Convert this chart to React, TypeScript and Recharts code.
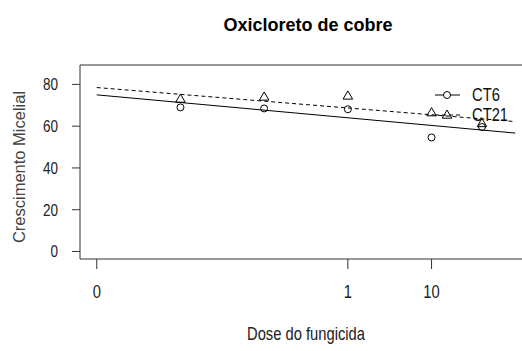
import { ComposedChart, XAxis, YAxis, Scatter, Line, ReferenceArea } from "recharts"

// doses (log scale, 0 drawn three decades below 1)
const doses = [0.01, 0.1, 1, 10, 40]
const ct6 = [69.0, 68.5, 68.1, 54.6, 59.6]
const ct21 = [73.0, 74.0, 74.5, 66.5, 61.3]

// fitted lines, ends only
const fitDoses = [0, 100]
const ct6Fit = [75.0, 56.7]
const ct21Fit = [78.5, 62.2]

const xTicks = [0, 1, 10]
const yTicks = [0, 20, 40, 60, 80]

const pos = (d: number) => (d === 0 ? -3 : Math.log10(d))

const pts6 = doses.map((d, i) => ({ x: pos(d), y: ct6[i] }))
const pts21 = doses.map((d, i) => ({ x: pos(d), y: ct21[i] }))
const fit6 = fitDoses.map((d, i) => ({ x: pos(d), y: ct6Fit[i] }))
const fit21 = fitDoses.map((d, i) => ({ x: pos(d), y: ct21Fit[i] }))

const font = "'Liberation Sans', Arial, sans-serif"
const squeeze = 0.82 // fake an Arial Narrow look

// text squeezed horizontally around its anchor point
const Narrow = ({ x, y, size, anchor = "start", fill = "#222", weight = "normal", children }: any) => (
  <text
    transform={`translate(${x} ${y}) scale(${squeeze} 1)`}
    textAnchor={anchor}
    fontSize={size}
    fontWeight={weight}
    fontFamily={font}
    fill={fill}
  >
    {children}
  </text>
)

const XTick = (p: any) => {
  const v = xTicks[xTicks.map(pos).indexOf(p.payload.value)]
  return <Narrow x={p.x} y={p.y + 29} size={18} anchor="middle">{v}</Narrow>
}

const YTick = (p: any) => (
  <Narrow x={p.x} y={p.y + 6} size={16.5} anchor="end">{p.payload.value}</Narrow>
)

const Circle = (p: any) => <circle cx={p.cx} cy={p.cy} r={3.5} fill="none" stroke="#000" strokeWidth={1} />
const Triangle = (p: any) => (
  <polygon
    points={`${p.cx},${p.cy - 5} ${p.cx - 4.8},${p.cy + 3.2} ${p.cx + 4.8},${p.cy + 3.2}`}
    fill="none"
    stroke="#000"
    strokeWidth={1}
  />
)

export default function App() {
  return (
    <div style={{ position: "absolute", left: 0, top: 0, width: 522, height: 351, overflow: "hidden", background: "#fff" }}>
      <div style={{ position: "absolute", left: 0, top: 0 }}>
        <ComposedChart width={540} height={351} margin={{ top: 65, right: 8, bottom: 0, left: 0 }}>
          <XAxis
            type="number"
            dataKey="x"
            domain={[-3.2, 2.2]}
            ticks={xTicks.map(pos)}
            height={92}
            axisLine={false}
            tickSize={10}
            tickMargin={0}
            tickLine={{ stroke: "#333" }}
            tick={XTick}
            allowDataOverflow
            label={(props: any) => {
              const vb = props.viewBox
              return <Narrow x={vb.x + vb.width / 2} y={340} size={18} anchor="middle">Dose do fungicida</Narrow>
            }}
          />
          <YAxis
            type="number"
            domain={[-3.6, 89.3]}
            ticks={yTicks}
            width={80}
            axisLine={false}
            tickSize={8}
            tickMargin={14}
            tickLine={{ stroke: "#333" }}
            tick={YTick}
            allowDataOverflow
            label={() => (
              <text x={25} y={167} transform="rotate(-90 25 167)" textAnchor="middle" fontSize={16.5} fontFamily={font} fill="#444">
                Crescimento Micelial
              </text>
            )}
          />
          <ReferenceArea x1={-3.2} x2={2.2} y1={-3.6} y2={89.3} fill="none" stroke="#333" strokeWidth={1} ifOverflow="visible" />
          <Line data={fit6} dataKey="y" stroke="#000" strokeWidth={1} dot={false} isAnimationActive={false} />
          <Line data={fit21} dataKey="y" stroke="#000" strokeWidth={1} strokeDasharray="4 3" dot={false} isAnimationActive={false} />
          <Scatter data={pts6} dataKey="y" shape={Circle} isAnimationActive={false} />
          <Scatter data={pts21} dataKey="y" shape={Triangle} isAnimationActive={false} />
        </ComposedChart>
      </div>
      <svg width={522} height={351} style={{ position: "absolute", left: 0, top: 0, pointerEvents: "none" }}>
        <text x={308} y={31} textAnchor="middle" fontSize={18} fontWeight="bold" fontFamily={font} fill="#000">
          Oxicloreto de cobre
        </text>
        <line x1={435} y1={95} x2={460} y2={95} stroke="#000" />
        <circle cx={447} cy={95} r={3.5} fill="#fff" stroke="#000" />
        <Narrow x={472} y={101} size={18} fill="#111">CT6</Narrow>
        <line x1={435} y1={115} x2={460} y2={115} stroke="#000" strokeDasharray="4 3" />
        <polygon points="447,110 442.2,118.2 451.8,118.2" fill="none" stroke="#000" />
        <Narrow x={472} y={121} size={18} fill="#111">CT21</Narrow>
      </svg>
    </div>
  )
}
